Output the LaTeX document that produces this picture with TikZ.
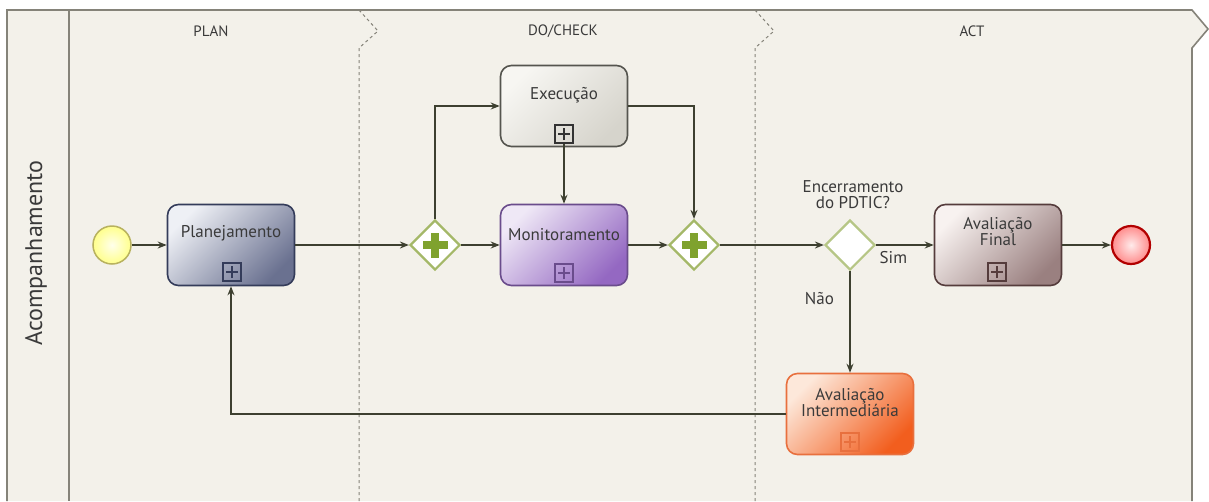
\documentclass[tikz,border=0pt]{standalone}
\usepackage{fontspec}
\setmainfont{PT Sans}
\usetikzlibrary{shapes.geometric,arrows.meta}

\definecolor{poolbg}{HTML}{F3F1EA}
\definecolor{poolline}{HTML}{858379}
\definecolor{flowc}{HTML}{3D4030}
\definecolor{txtc}{HTML}{3A3A3A}
\definecolor{gwline}{HTML}{A4B868}
\definecolor{gwplus}{HTML}{7FA22E}
\definecolor{planline}{HTML}{343C5A}
\definecolor{planhi}{HTML}{EEF0F5}
\definecolor{planlo}{HTML}{6A7190}
\definecolor{execline}{HTML}{55554F}
\definecolor{exechi}{HTML}{F7F6F2}
\definecolor{execlo}{HTML}{D6D4CC}
\definecolor{monline}{HTML}{6A4C8C}
\definecolor{monhi}{HTML}{EFE8F6}
\definecolor{monlo}{HTML}{9468C2}
\definecolor{finline}{HTML}{553C3C}
\definecolor{finhi}{HTML}{F8F2F0}
\definecolor{finlo}{HTML}{9A8080}
\definecolor{intline}{HTML}{E8703E}
\definecolor{inthi}{HTML}{FDE8DA}
\definecolor{intlo}{HTML}{F25E1E}

\begin{document}
\begin{tikzpicture}[x=1pt,y=-1pt,
  flow/.style={draw=flowc, line width=1.4pt, -{Stealth[length=9pt,width=7pt]}},
  txt/.style={text=txtc, font=\fontsize{17}{19}\selectfont, align=center},
  lanetxt/.style={text=txtc, font=\fontsize{15}{17}\selectfont},
  task/.style n args={3}{draw=#1, top color=#2, bottom color=#3, shading angle=45,
    rounded corners=11pt, line width=1.6pt, minimum width=127pt, minimum height=81pt},
  plusbox/.style={draw=#1, line width=1.4pt, minimum size=18pt, inner sep=0pt,
    path picture={
      \draw[#1, line width=2.6pt] ([yshift=3pt]path picture bounding box.south) -- ([yshift=-3pt]path picture bounding box.north);
      \draw[#1, line width=2.6pt] ([xshift=3pt]path picture bounding box.west) -- ([xshift=-3pt]path picture bounding box.east);}},
  gateway/.style={diamond, aspect=1, draw=gwline, line width=2.2pt, fill=white, minimum size=50pt, inner sep=0pt},
  parallel/.style={gateway, path picture={
      \fill[gwplus] ([xshift=-12.5pt,yshift=-4pt]path picture bounding box.center) rectangle ([xshift=12.5pt,yshift=4pt]path picture bounding box.center);
      \fill[gwplus] ([xshift=-4pt,yshift=-12.5pt]path picture bounding box.center) rectangle ([xshift=4pt,yshift=12.5pt]path picture bounding box.center);}}]
  \useasboundingbox (0,0) rectangle (1209,501);
  \fill[poolbg] (7,501) -- (7,10) -- (1192,10) -- (1208,29) -- (1192,48) -- (1192,501) -- cycle;
  \draw[poolline, line width=1.6pt] (7,501) -- (7,10) -- (1192,10) -- (1208,29) -- (1192,48) -- (1192,501);
  \draw[poolline, line width=1.6pt] (69,10) -- (69,501);
  \draw[poolline, dashed, line width=1pt] (359,10) -- (378,31) -- (359,48) -- (359,501);
  \draw[poolline, dashed, line width=1pt] (755,10) -- (774,31) -- (755,48) -- (755,501);
  \node[lanetxt] (plan) at (211,31) {PLAN};
  \node[lanetxt] (docheck) at (563,31) {DO/CHECK};
  \node[lanetxt] (act) at (972,31) {ACT};
  \node[text=txtc, font=\fontsize{24}{27}\selectfont, rotate=90] (acomp) at (36,253) {Acompanhamento};

  \node[circle, draw=black!20!yellow!60!gray, line width=1.5pt, inner color=yellow!8, outer color=yellow!45!white, minimum size=38pt] (start) at (112,245) {};
  \node[task={planline}{planhi}{planlo}] (planej) at (231,245) {};
  \node[txt] (planejtxt) at (231,233) {Planejamento};
  \node[plusbox=planline] (planejm) at (232,272) {};

  \node[parallel] (split) at (435,245) {};
  \node[task={execline}{exechi}{execlo}] (exec) at (564,106) {};
  \node[txt] (exectxt) at (564,95) {Execução};
  \node[plusbox=black!80] (execm) at (564,134) {};
  \node[task={monline}{monhi}{monlo}] (monit) at (564,245) {};
  \node[txt] (monittxt) at (564,235) {Monitoramento};
  \node[plusbox=monline] (monitm) at (564,273) {};
  \node[parallel] (join) at (694,245) {};

  \node[gateway, draw=gwline!80!white] (fim) at (850,245) {};
  \node[txt] (fimtxt) at (853,195) {Encerramento\\[-3pt]do PDTIC?};
  \node[task={finline}{finhi}{finlo}] (final) at (998,245) {};
  \node[txt] (finaltxt) at (998,232) {Avaliação\\[-3pt]Final};
  \node[plusbox=finline] (finalm) at (997,272) {};
  \node[circle, draw=red!70!black, line width=2.2pt, inner color=red!8, outer color=red!45!white, minimum size=38pt] (stop) at (1131,245) {};

  \node[task={intline}{inthi}{intlo}] (inter) at (850,414) {};
  \node[txt] (intertxt) at (850,403) {Avaliação\\[-3pt]Intermediária};
  \node[plusbox=intline] (interm) at (850,442) {};

  \draw[flow] (start) -- (planej);
  \draw[flow] (planej) -- (split);
  \draw[flow] (split) -- (monit);
  \draw[flow] (split.north) |- (exec.west);
  \draw[flow] (execm.south) -- (monit.north);
  \draw[flow] (exec.east) -| (join.north);
  \draw[flow] (monit) -- (join);
  \draw[flow] (join) -- (fim);
  \draw[flow] (fim) -- node[txt, pos=0.3, below=2pt] (sim) {Sim} (final);
  \draw[flow] (final) -- (stop);
  \draw[flow] (fim) -- node[txt, pos=0.27, left=12pt] (nao) {Não} (inter);
  \draw[flow] (inter.west) -| (planej.south);
\end{tikzpicture}
\end{document}
